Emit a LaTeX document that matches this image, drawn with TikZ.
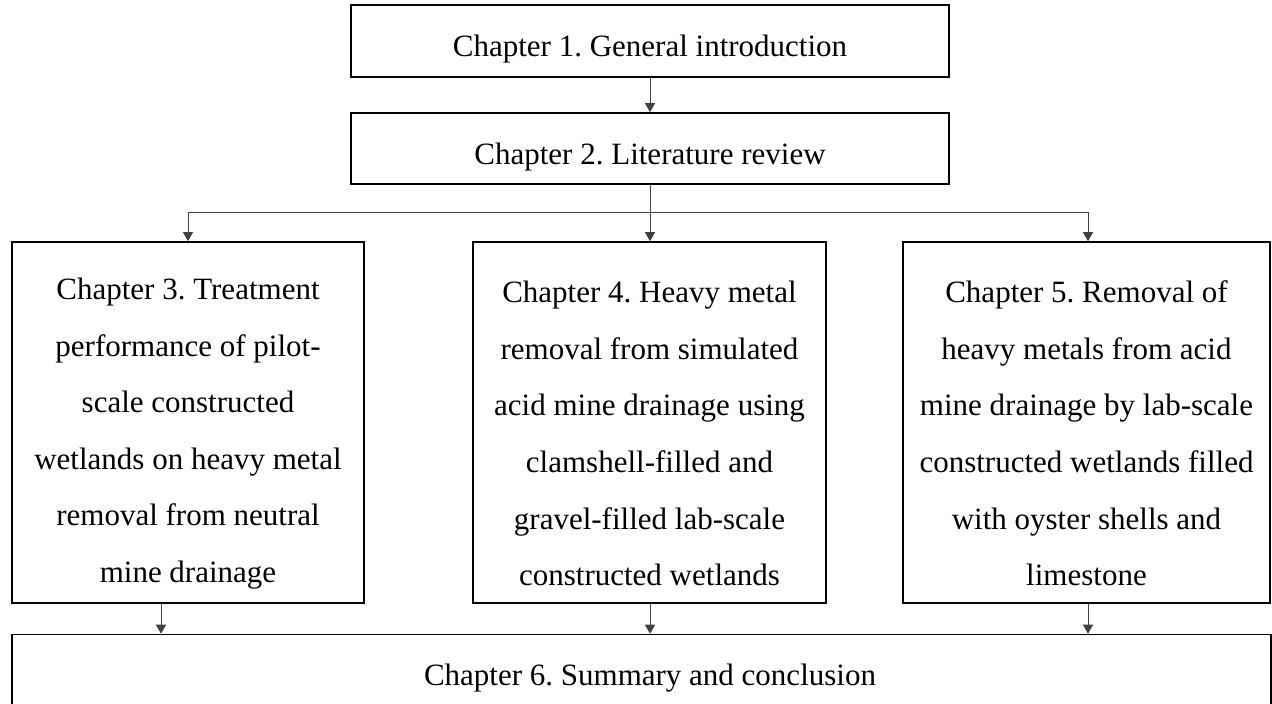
\documentclass[tikz,border=0pt]{standalone}
\usepackage{fontspec}
\setmainfont{Liberation Serif}
\usetikzlibrary{arrows.meta}
\begin{document}
\frenchspacing
\begin{tikzpicture}[x=1pt,y=-1pt,
  box/.style={draw=black, line width=1.6pt, inner sep=0pt},
  txt/.style={align=center, font=\fontsize{31}{56.6}\selectfont, inner sep=0pt},
  conn/.style={draw=black!75, line width=1pt, -{Triangle[length=9pt,width=10pt]}}]
\useasboundingbox (0,0) rectangle (1272,704);
\node[box, minimum width=598pt, minimum height=72pt] (b1) at (650,41) {};
\node[txt, anchor=base] (t1) at (650,56) {Chapter 1. General introduction};
\node[box, minimum width=598pt, minimum height=71pt] (b2) at (650,148.5) {};
\node[txt, anchor=base] (t2) at (650,164) {Chapter 2. Literature review};
\node[box, minimum width=352pt, minimum height=361pt] (b3) at (188,422.5) {};
\node[box, minimum width=353pt, minimum height=361pt] (b4) at (649.5,422.5) {};
\node[box, minimum width=367pt, minimum height=361pt] (b5) at (1086.5,422.5) {};
\node[txt] (t3) at (188,433.5) {Chapter 3. Treatment\\performance of pilot-\\scale constructed\\wetlands on heavy metal\\removal from neutral\\mine drainage};
\node[txt] (t4) at (649.5,433.5) {Chapter 4. Heavy metal\\removal from simulated\\acid mine drainage using\\clamshell-filled and\\gravel-filled lab-scale\\constructed wetlands};
\node[txt] (t5) at (1086.5,433.5) {Chapter 5. Removal of\\heavy metals from acid\\mine drainage by lab-scale\\constructed wetlands filled\\with oyster shells and\\limestone};
\node[box, minimum width=1259pt, minimum height=105pt] (b6) at (641.5,687) {};
\node[txt, anchor=base] (t6) at (650,685) {Chapter 6. Summary and conclusion};
\draw[conn] (b1.south) -- (b2.north);
\draw[conn] (b2.south) -- (b2.south |- b4.north);
\draw[conn] (b2.south) |- ([yshift=29pt]b3.north) -- (b3.north);
\draw[conn] (b2.south) |- ([xshift=1.5pt,yshift=29pt]b5.north) -- ([xshift=1.5pt]b5.north);
\draw[conn] ([xshift=-27pt]b3.south) -- ([xshift=-27pt]b3.south |- b6.north);
\draw[conn] ([xshift=0.5pt]b4.south) -- ([xshift=0.5pt]b4.south |- b6.north);
\draw[conn] ([xshift=1.5pt]b5.south) -- ([xshift=1.5pt]b5.south |- b6.north);
\end{tikzpicture}
\end{document}
